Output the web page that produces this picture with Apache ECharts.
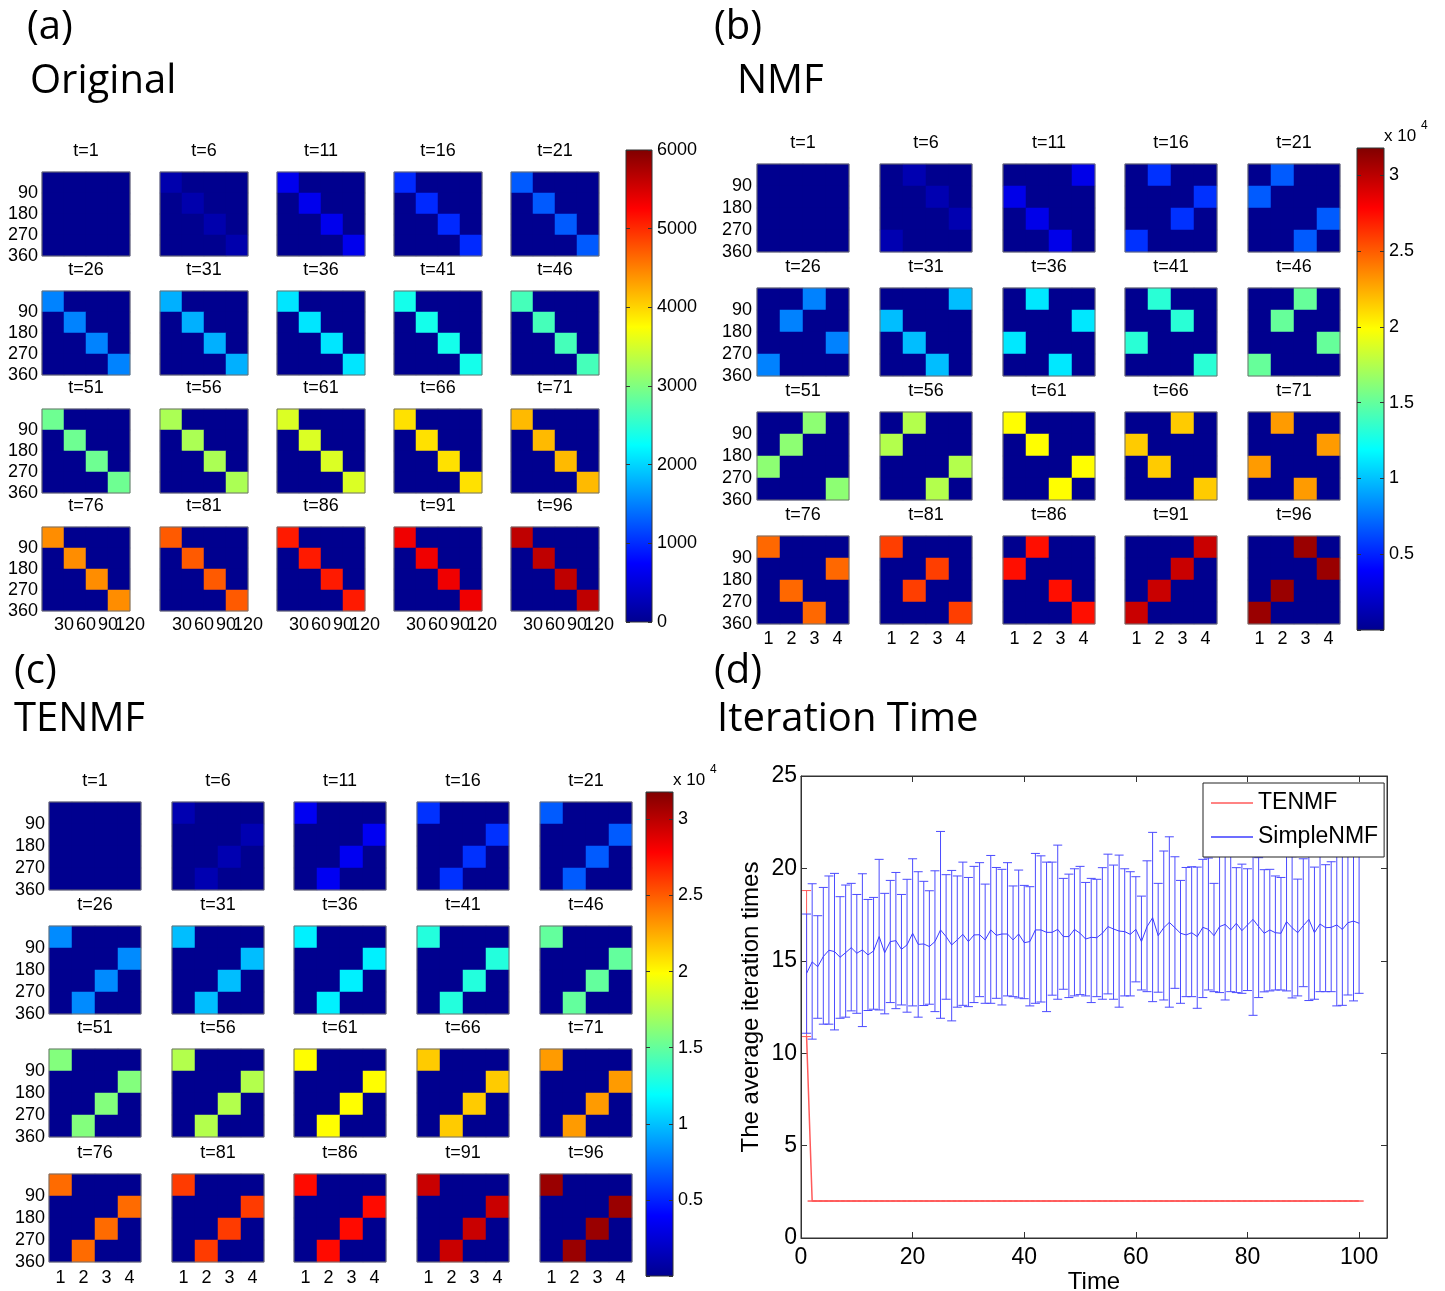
<!DOCTYPE html>
<html>
<head>
<meta charset="utf-8">
<title>Original / NMF / TENMF / Iteration Time</title>
<script src="https://cdn.jsdelivr.net/npm/echarts@6/dist/echarts.min.js"></script>
<style>
  body { margin: 0; padding: 0; background: #fff; }
  #chart { width: 1445px; height: 1291px; }
</style>
</head>
<body>
<div id="chart"></div>
<script>
// snapshot times, one small matrix per time
const snapTimes = [1, 6, 11, 16, 21, 26, 31, 36, 41, 46, 51, 56, 61, 66, 71, 76, 81, 86, 91, 96];
const rowTicks = [90, 180, 270, 360];
const origColTicks = ['', '30', '60', '90', '120'];
const factorCols = ['1', '2', '3', '4'];

const origLevels = [0, 200, 630, 990, 1275, 1515, 1785, 2100, 2370, 2655, 2895, 3255, 3540, 3930, 4155, 4425, 4725, 5100, 5340, 5630];
const nmfLevels = [0, 1200, 3200, 5500, 6800, 8000, 9900, 11200, 13200, 15100, 16300, 17500, 19900, 21500, 23000, 24600, 25900, 27400, 29500, 31000];
const tenmfLevels = [0, 1200, 3500, 5500, 6800, 8300, 9900, 11500, 13000, 15000, 16000, 17500, 19900, 21500, 23000, 24500, 26000, 27500, 29500, 31000];

// column of the lit cell in each row (rows top to bottom)
const origOrder = [0, 1, 2, 3];
const tenmfOrder = [0, 3, 2, 1];
const nmfOrder = [
  [0, 1, 2, 3], [1, 2, 3, 0], [3, 0, 1, 2], [1, 3, 2, 0], [1, 0, 3, 2],
  [2, 1, 3, 0], [3, 0, 1, 2], [1, 3, 0, 2], [1, 2, 0, 3], [2, 1, 3, 0],
  [2, 1, 0, 3], [1, 0, 3, 2], [0, 1, 3, 2], [2, 0, 1, 3], [1, 3, 0, 2],
  [0, 3, 1, 2], [0, 2, 1, 3], [1, 0, 2, 3], [3, 2, 1, 0], [2, 3, 1, 0]
];

// panel (d): average iteration times, t = 1..100
const simpleMean = [
  14.32, 14.94, 14.68, 15.23, 15.57, 15.50, 15.19, 15.44, 15.71, 15.41,
  15.59, 15.32, 15.53, 16.31, 15.44, 16.04, 16.09, 15.62, 15.86, 16.49,
  15.89, 15.91, 15.77, 16.04, 16.67, 16.31, 15.86, 16.13, 16.43, 16.04,
  16.40, 16.41, 16.13, 16.67, 16.38, 16.45, 16.45, 16.13, 16.45, 15.98,
  16.04, 16.67, 16.67, 16.54, 16.54, 16.70, 16.31, 16.31, 16.70, 16.49,
  16.18, 16.27, 16.25, 16.49, 16.85, 16.72, 16.61, 16.58, 16.43, 16.70,
  16.04, 16.85, 17.33, 16.36, 16.79, 17.08, 16.79, 16.49, 16.40, 16.52,
  16.31, 16.81, 16.70, 16.36, 16.85, 16.97, 16.67, 17.03, 16.63, 16.94,
  17.24, 16.85, 16.49, 16.67, 16.52, 16.49, 17.12, 16.79, 16.52, 16.90,
  17.24, 16.52, 16.99, 16.79, 16.81, 16.94, 16.70, 17.06, 17.15, 17.03
];
const simpleUpper = [
  17.53, 19.17, 17.44, 18.97, 19.59, 19.73, 18.47, 19.10, 19.19, 18.59,
  19.71, 18.32, 18.43, 20.49, 18.65, 19.35, 19.78, 18.59, 19.41, 20.52,
  19.82, 19.30, 18.79, 19.87, 22.00, 19.66, 19.89, 19.59, 20.34, 19.51,
  20.11, 20.31, 19.15, 20.70, 20.05, 19.95, 20.31, 19.05, 19.91, 19.08,
  19.01, 20.81, 20.68, 20.34, 20.34, 21.26, 19.46, 19.69, 19.98, 20.11,
  19.24, 19.46, 19.41, 20.04, 20.77, 20.18, 20.72, 19.98, 19.82, 19.55,
  18.50, 20.41, 21.95, 19.19, 20.94, 21.71, 20.63, 19.35, 20.05, 20.09,
  20.07, 20.49, 20.56, 19.19, 20.94, 20.76, 20.77, 20.04, 20.23, 19.98,
  21.80, 20.58, 19.93, 19.95, 19.59, 19.51, 20.94, 20.63, 19.42, 20.52,
  21.90, 20.07, 20.85, 20.20, 20.36, 21.90, 20.77, 20.90, 20.94, 20.79
];
const simpleLower = [
  11.08, 10.76, 11.89, 11.57, 11.57, 11.26, 11.89, 11.95, 12.29, 12.16,
  11.44, 12.31, 12.38, 12.34, 12.13, 12.74, 12.41, 12.61, 12.22, 12.56,
  11.95, 12.58, 12.65, 12.25, 11.89, 12.92, 11.75, 12.49, 12.59, 12.52,
  12.74, 13.06, 12.70, 12.70, 12.97, 12.61, 13.10, 13.06, 12.99, 12.95,
  12.56, 12.70, 12.77, 12.25, 13.14, 12.92, 13.46, 13.01, 13.10, 13.17,
  13.10, 12.74, 13.06, 12.92, 13.21, 12.92, 12.49, 13.10, 13.10, 13.86,
  13.42, 13.33, 12.79, 13.30, 12.88, 12.49, 13.51, 12.70, 13.06, 13.06,
  12.43, 13.01, 13.42, 13.33, 13.28, 12.88, 13.33, 13.28, 13.24, 13.39,
  12.05, 13.01, 13.32, 13.37, 13.42, 13.42, 13.37, 12.99, 13.10, 13.60,
  12.85, 12.92, 13.33, 13.33, 13.33, 12.56, 12.59, 13.15, 12.83, 13.24
];
const tenmfMean = [
  10.9, 2, 2, 2, 2, 2, 2, 2, 2, 2, 2, 2, 2, 2, 2, 2, 2, 2, 2, 2,
  2, 2, 2, 2, 2, 2, 2, 2, 2, 2, 2, 2, 2, 2, 2, 2, 2, 2, 2, 2,
  2, 2, 2, 2, 2, 2, 2, 2, 2, 2, 2, 2, 2, 2, 2, 2, 2, 2, 2, 2,
  2, 2, 2, 2, 2, 2, 2, 2, 2, 2, 2, 2, 2, 2, 2, 2, 2, 2, 2, 2,
  2, 2, 2, 2, 2, 2, 2, 2, 2, 2, 2, 2, 2, 2, 2, 2, 2, 2, 2, 2
];
const tenmfUpper = [
  18.8, 2, 2, 2, 2, 2, 2, 2, 2, 2, 2, 2, 2, 2, 2, 2, 2, 2, 2, 2,
  2, 2, 2, 2, 2, 2, 2, 2, 2, 2, 2, 2, 2, 2, 2, 2, 2, 2, 2, 2,
  2, 2, 2, 2, 2, 2, 2, 2, 2, 2, 2, 2, 2, 2, 2, 2, 2, 2, 2, 2,
  2, 2, 2, 2, 2, 2, 2, 2, 2, 2, 2, 2, 2, 2, 2, 2, 2, 2, 2, 2,
  2, 2, 2, 2, 2, 2, 2, 2, 2, 2, 2, 2, 2, 2, 2, 2, 2, 2, 2, 2
];
const tenmfLower = [
  10.9, 2, 2, 2, 2, 2, 2, 2, 2, 2, 2, 2, 2, 2, 2, 2, 2, 2, 2, 2,
  2, 2, 2, 2, 2, 2, 2, 2, 2, 2, 2, 2, 2, 2, 2, 2, 2, 2, 2, 2,
  2, 2, 2, 2, 2, 2, 2, 2, 2, 2, 2, 2, 2, 2, 2, 2, 2, 2, 2, 2,
  2, 2, 2, 2, 2, 2, 2, 2, 2, 2, 2, 2, 2, 2, 2, 2, 2, 2, 2, 2,
  2, 2, 2, 2, 2, 2, 2, 2, 2, 2, 2, 2, 2, 2, 2, 2, 2, 2, 2, 2
];

const jet = ['#00008f', '#0000ff', '#0080ff', '#00ffff', '#80ff80', '#ffff00', '#ff8000', '#ff0000', '#800000'];
const FONT = '"Liberation Sans", Arial, sans-serif';
const HEAD = '"Open Sans", sans-serif';

const panels = [
  { levels: origLevels, order: snapTimes.map(() => origOrder), max: 6000, step: 1000,
    lefts: [42, 160, 277, 394, 511], tops: [172, 291, 409, 527], w: 88, h: 84,
    yMargin: 4, xMargin: 5, valueCols: true,
    cbar: { left: 626, top: 150, width: 26, height: 472 } },
  { levels: nmfLevels, order: nmfOrder, max: 31800, step: 5000,
    lefts: [757, 880, 1003, 1125, 1248], tops: [164, 288, 412, 536], w: 92, h: 88,
    yMargin: 5, xMargin: 6, valueCols: false,
    cbar: { left: 1357, top: 148, width: 27, height: 482 }, expo: [1384, 136] },
  { levels: tenmfLevels, order: snapTimes.map(() => tenmfOrder), max: 31800, step: 5000,
    lefts: [49, 172, 294, 417, 540], tops: [802, 926, 1049, 1174], w: 92, h: 88,
    yMargin: 4, xMargin: 7, valueCols: false,
    cbar: { left: 646, top: 792, width: 27, height: 484 }, expo: [673, 780] }
];

function cellsFor(level, order) {
  const out = [];
  for (let r = 0; r < 4; r++) {
    for (let c = 0; c < 4; c++) {
      out.push([c, r, order[r] === c ? level : 0]);
    }
  }
  return out;
}

const grids = [], xAxes = [], yAxes = [], series = [], visualMaps = [], graphics = [];

function addGrid(g) {
  grids.push(Object.assign({ containLabel: false, outerBoundsMode: 'none' }, g));
  return grids.length - 1;
}

function text(x, y, str, size, family, align) {
  graphics.push({
    type: 'text', x: x, y: y, silent: true,
    style: { text: str, fontSize: size, fontFamily: family, fill: '#000',
      align: align || 'left', verticalAlign: 'middle' }
  });
}

panels.forEach(function (p) {
  const first = series.length;
  snapTimes.forEach(function (t, k) {
    const r = Math.floor(k / 5), c = k % 5;
    const left = p.lefts[c], top = p.tops[r];
    const gi = addGrid({ left: left, top: top, width: p.w, height: p.h, show: true,
      borderColor: '#707070', borderWidth: 1, backgroundColor: 'transparent', z: 5 });
    const bottomRow = r === 3, leftCol = c === 0;

    const xi = xAxes.length;
    xAxes.push({ type: 'category', gridIndex: gi, data: factorCols, position: p.valueCols ? 'top' : 'bottom',
      show: bottomRow && !p.valueCols,
      axisLine: { show: false }, axisTick: { show: false }, splitLine: { show: false }, splitArea: { show: false },
      axisLabel: { fontSize: 18, color: '#000', margin: p.xMargin, fontFamily: FONT } });
    const yi = yAxes.length;
    yAxes.push({ type: 'category', gridIndex: gi, data: ['r1', 'r2', 'r3', 'r4'], inverse: true,
      position: 'right', show: false, splitLine: { show: false }, splitArea: { show: false } });

    if (leftCol) {
      yAxes.push({ type: 'value', gridIndex: gi, position: 'left', min: 0, max: rowTicks[3],
        interval: rowTicks[0], inverse: true,
        axisLine: { show: false, onZero: false }, axisTick: { show: false }, splitLine: { show: false },
        axisLabel: { fontSize: 18, color: '#000', margin: p.yMargin, showMinLabel: false,
          showMaxLabel: true, hideOverlap: false, fontFamily: FONT } });
    }
    if (bottomRow && p.valueCols) {
      // pixel columns 30/60/90/120 sit on the cell boundaries
      xAxes.push({ type: 'category', gridIndex: gi, position: 'bottom', data: origColTicks,
        boundaryGap: false,
        axisLine: { show: false }, axisTick: { show: false }, splitLine: { show: false },
        axisLabel: { interval: 0, fontSize: 18, color: '#000', margin: p.xMargin, fontFamily: FONT } });
    }

    series.push({ type: 'heatmap', xAxisIndex: xi, yAxisIndex: yi,
      data: cellsFor(p.levels[k], p.order[k]),
      itemStyle: { borderWidth: 0 }, emphasis: { disabled: true }, silent: true, animation: false });

    text(left + p.w / 2, top - 21, 't=' + t, 18, FONT, 'center');
  });

  const ids = [];
  for (let i = first; i < series.length; i++) ids.push(i);
  visualMaps.push({ type: 'continuous', show: false, min: 0, max: p.max, seriesIndex: ids,
    inRange: { color: jet } });

  // colour bar
  const cb = addGrid({ left: p.cbar.left, top: p.cbar.top, width: p.cbar.width, height: p.cbar.height,
    show: true, borderColor: '#333', borderWidth: 1,
    backgroundColor: { type: 'linear', x: 0, y: 1, x2: 0, y2: 0,
      colorStops: jet.map(function (col, i) { return { offset: i / (jet.length - 1), color: col }; }) } });
  xAxes.push({ type: 'value', gridIndex: cb, show: false, min: 0, max: 1 });
  const fmt = p.max === 6000
    ? function (v) { return String(v); }
    : function (v) { return (v > 0 && v % p.step === 0) ? String(v / 1e4) : ''; };
  yAxes.push({ type: 'value', gridIndex: cb, position: 'right', min: 0, max: p.max, interval: p.step,
    axisLine: { show: false, onZero: false },
    axisTick: { show: true, inside: true, length: 4, lineStyle: { color: '#333' } },
    splitLine: { show: false },
    axisLabel: { fontSize: 18, color: '#000', margin: 5, formatter: fmt, fontFamily: FONT,
      showMaxLabel: true, hideOverlap: false } });
  yAxes.push({ type: 'value', gridIndex: cb, position: 'left', min: 0, max: p.max, interval: p.step,
    axisLine: { show: false, onZero: false },
    axisTick: { show: true, inside: true, length: 4, lineStyle: { color: '#333' } },
    splitLine: { show: false }, axisLabel: { show: false } });

  if (p.expo) {
    text(p.expo[0], p.expo[1], 'x 10', 17, FONT, 'left');
    text(p.expo[0] + 37, p.expo[1] - 10, '4', 12, FONT, 'left');
  }
});

// panel headings
text(27, 28, '(a)', 40, HEAD);
text(30, 82, 'Original', 40, HEAD);
text(714, 28, '(b)', 40, HEAD);
text(737, 82, 'NMF', 40, HEAD);
text(14, 672, '(c)', 40, HEAD);
text(14, 720, 'TENMF', 40, HEAD);
text(714, 672, '(d)', 40, HEAD);
text(717, 720, 'Iteration Time', 40, HEAD);

// panel (d): iteration time line chart
const lg = addGrid({ left: 801, top: 776, width: 586, height: 462, show: true,
  borderColor: '#333', borderWidth: 1, backgroundColor: 'transparent' });
const lx = xAxes.length;
xAxes.push({ type: 'value', gridIndex: lg, position: 'bottom', min: 0, max: 105, interval: 20,
  axisLine: { show: true, onZero: false, lineStyle: { color: '#333' } },
  axisTick: { show: true, inside: true, length: 6, lineStyle: { color: '#333' } },
  splitLine: { show: false },
  axisLabel: { fontSize: 23, color: '#000', margin: 8, fontFamily: FONT,
    formatter: function (v) { return v % 20 === 0 ? String(v) : ''; } },
  name: 'Time', nameLocation: 'middle', nameGap: 31,
  nameTextStyle: { fontSize: 24, color: '#000', fontFamily: FONT } });
xAxes.push({ type: 'value', gridIndex: lg, position: 'top', min: 0, max: 105, interval: 20,
  axisLine: { show: true, onZero: false, lineStyle: { color: '#333' } },
  axisTick: { show: true, inside: true, length: 6, lineStyle: { color: '#333' } },
  splitLine: { show: false }, axisLabel: { show: false } });
const ly = yAxes.length;
yAxes.push({ type: 'value', gridIndex: lg, position: 'left', min: 0, max: 25, interval: 5,
  axisLine: { show: true, onZero: false, lineStyle: { color: '#333' } },
  axisTick: { show: true, inside: true, length: 6, lineStyle: { color: '#333' } },
  splitLine: { show: false },
  axisLabel: { fontSize: 23, color: '#000', margin: 4, fontFamily: FONT },
  name: 'The average iteration times', nameLocation: 'middle', nameGap: 38, nameRotate: 90,
  nameTextStyle: { fontSize: 24, color: '#000', fontFamily: FONT } });
yAxes.push({ type: 'value', gridIndex: lg, position: 'right', min: 0, max: 25, interval: 5,
  axisLine: { show: true, onZero: false, lineStyle: { color: '#333' } },
  axisTick: { show: true, inside: true, length: 6, lineStyle: { color: '#333' } },
  splitLine: { show: false }, axisLabel: { show: false } });

const timeSteps = simpleMean.map(function (_, i) { return i + 1; });

function renderErrorBar(params, api) {
  const x = api.value(0);
  const lo = api.coord([x, api.value(1)]);
  const hi = api.coord([x, api.value(2)]);
  const cap = 4.5;
  const style = { stroke: api.visual('color'), lineWidth: 1, fill: null };
  return { type: 'group', children: [
    { type: 'line', shape: { x1: hi[0], y1: hi[1], x2: lo[0], y2: lo[1] }, style: style },
    { type: 'line', shape: { x1: hi[0] - cap, y1: hi[1], x2: hi[0] + cap, y2: hi[1] }, style: style },
    { type: 'line', shape: { x1: lo[0] - cap, y1: lo[1], x2: lo[0] + cap, y2: lo[1] }, style: style }
  ] };
}

series.push({ type: 'custom', name: 'TENMF bars', xAxisIndex: lx, yAxisIndex: ly,
  renderItem: renderErrorBar, itemStyle: { color: '#ff5a5a' }, silent: true, animation: false,
  encode: { x: 0, y: [1, 2] },
  data: timeSteps.map(function (t, i) { return [t, tenmfLower[i], tenmfUpper[i]]; }) });
series.push({ type: 'line', name: 'TENMF', xAxisIndex: lx, yAxisIndex: ly, symbol: 'none',
  lineStyle: { color: '#ff5a5a', width: 1.5 }, itemStyle: { color: '#ff5a5a' },
  silent: true, animation: false,
  data: timeSteps.map(function (t, i) { return [t, tenmfMean[i]]; }) });
series.push({ type: 'custom', name: 'SimpleNMF bars', xAxisIndex: lx, yAxisIndex: ly,
  renderItem: renderErrorBar, itemStyle: { color: '#4b4bff' }, silent: true, animation: false,
  encode: { x: 0, y: [1, 2] },
  data: timeSteps.map(function (t, i) { return [t, simpleLower[i], simpleUpper[i]]; }) });
series.push({ type: 'line', name: 'SimpleNMF', xAxisIndex: lx, yAxisIndex: ly, symbol: 'none',
  lineStyle: { color: '#3c3cff', width: 1 }, itemStyle: { color: '#3c3cff' },
  silent: true, animation: false,
  data: timeSteps.map(function (t, i) { return [t, simpleMean[i]]; }) });

const option = {
  backgroundColor: '#fff',
  animation: false,
  textStyle: { fontFamily: FONT },
  grid: grids,
  xAxis: xAxes,
  yAxis: yAxes,
  visualMap: visualMaps,
  series: series,
  legend: {
    data: [
      { name: 'TENMF', icon: 'rect', itemStyle: { color: '#ff5a5a' } },
      { name: 'SimpleNMF', icon: 'rect', itemStyle: { color: '#3c3cff' } }
    ],
    orient: 'vertical', left: 1203, top: 783,
    itemWidth: 42, itemHeight: 1.5, itemGap: 10,
    padding: [8, 6, 8, 8],
    backgroundColor: '#fff', borderColor: '#222', borderWidth: 1, borderRadius: 0,
    selectedMode: false,
    textStyle: { fontSize: 23, color: '#000', fontFamily: FONT, lineHeight: 24 }
  },
  graphic: graphics
};

const chart = echarts.init(document.getElementById('chart'), null, { renderer: 'canvas' });
chart.setOption(option);
</script>
</body>
</html>
